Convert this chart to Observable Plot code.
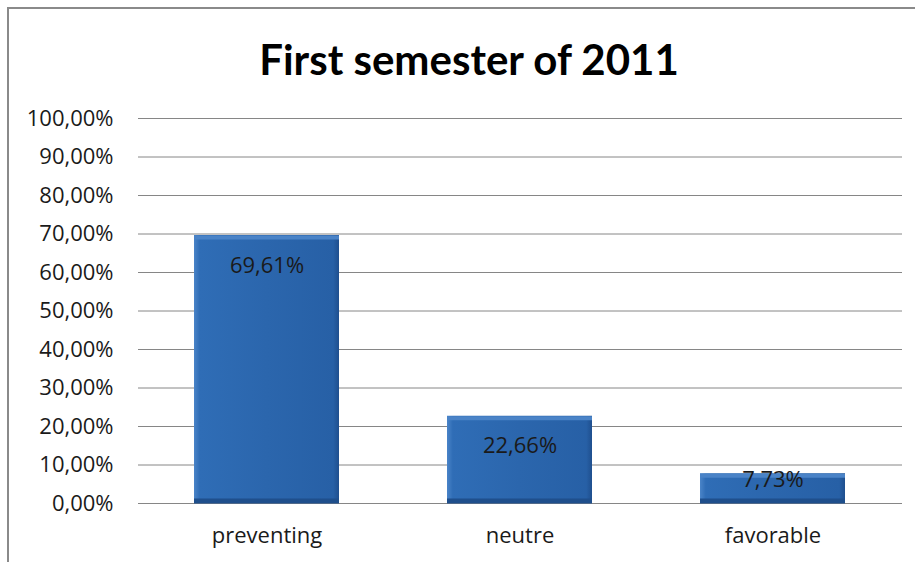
<!DOCTYPE html>
<html>
<head>
<meta charset="utf-8">
<script src="https://cdn.jsdelivr.net/npm/d3@7"></script>
<script src="https://cdn.jsdelivr.net/npm/@observablehq/plot@0.6"></script>
<style>
  html, body { margin: 0; padding: 0; background: #fff; }
  #wrap { position: relative; width: 915px; height: 562px; overflow: hidden; background: #fff; }
  #frame { position: absolute; left: 7px; top: 7px; width: 930px; height: 600px; border: 2px solid #8a8a8a; box-sizing: border-box; }
  #title { position: absolute; left: 0; width: 938px; top: 33px; text-align: center; font-family: Lato, sans-serif; font-weight: 700; font-size: 42px; color: #000; line-height: 52px; }
  #chart { position: absolute; left: 0; top: 0; }
</style>
</head>
<body>
<div id="wrap">
  <div id="frame"></div>
  <div id="title">First semester of 2011</div>
  <div id="chart"></div>
</div>
<script>
const categories = ["preventing", "neutre", "favorable"];
const values = [69.61, 22.66, 7.73];
const yTicks = [0, 10, 20, 30, 40, 50, 60, 70, 80, 90, 100];

const data = categories.map((c, i) => ({category: c, value: values[i]}));
const fmt = v => v.toFixed(2).replace(".", ",") + "%";

const chart = Plot.plot({
  width: 915,
  height: 562,
  marginLeft: 138,
  marginRight: 13,
  marginTop: 118,
  marginBottom: 59,
  style: {fontFamily: "'Open Sans', sans-serif", fontSize: "22px", color: "#1a1a1a", background: "transparent"},
  x: {domain: categories, paddingInner: 0.425, paddingOuter: 0.2165, label: null},
  y: {domain: [0, 100], label: null},
  marks: [
    Plot.gridY(yTicks, {stroke: "#868686", strokeOpacity: 1, strokeWidth: 1}),
    Plot.ruleX([0], {frameAnchor: "left", stroke: "#868686", strokeWidth: 1}),
    Plot.barY(data, {x: "category", y: "value", fill: "url(#barGrad)"}),
    Plot.tickY(data, {x: "category", y: "value", stroke: "#4a83c7", strokeWidth: 4, dy: 2}),
    Plot.tickY(data, {x: "category", y: 0, stroke: "#1f4f8c", strokeWidth: 5, dy: -2.5}),
    Plot.axisY(yTicks, {tickSize: 0, tickPadding: 25, tickFormat: fmt, fontSize: 22, fill: "#1a1a1a"}),
    Plot.axisX({tickSize: 0, tickPadding: 24, fontSize: 22, fill: "#1a1a1a"}),
    Plot.text(data.filter(d => d.value > 15), {x: "category", y: "value", text: d => fmt(d.value), dy: 30, fontSize: 22, fill: "#1a1a1a"}),
    Plot.text(data.filter(d => d.value <= 15), {x: "category", y: "value", text: d => fmt(d.value), dy: 6, fontSize: 22, fill: "#1a1a1a"})
  ]
});

const ns = "http://www.w3.org/2000/svg";
const defs = document.createElementNS(ns, "defs");
defs.innerHTML = `
  <linearGradient id="barGrad" x1="0" y1="0" x2="1" y2="0">
    <stop offset="0" stop-color="#4a84c8"/>
    <stop offset="0.04" stop-color="#2f6db6"/>
    <stop offset="0.5" stop-color="#2b66ad"/>
    <stop offset="0.96" stop-color="#2760a6"/>
    <stop offset="1" stop-color="#1f4f8e"/>
  </linearGradient>`;
chart.insertBefore(defs, chart.firstChild);
document.getElementById("chart").appendChild(chart);
</script>
</body>
</html>
